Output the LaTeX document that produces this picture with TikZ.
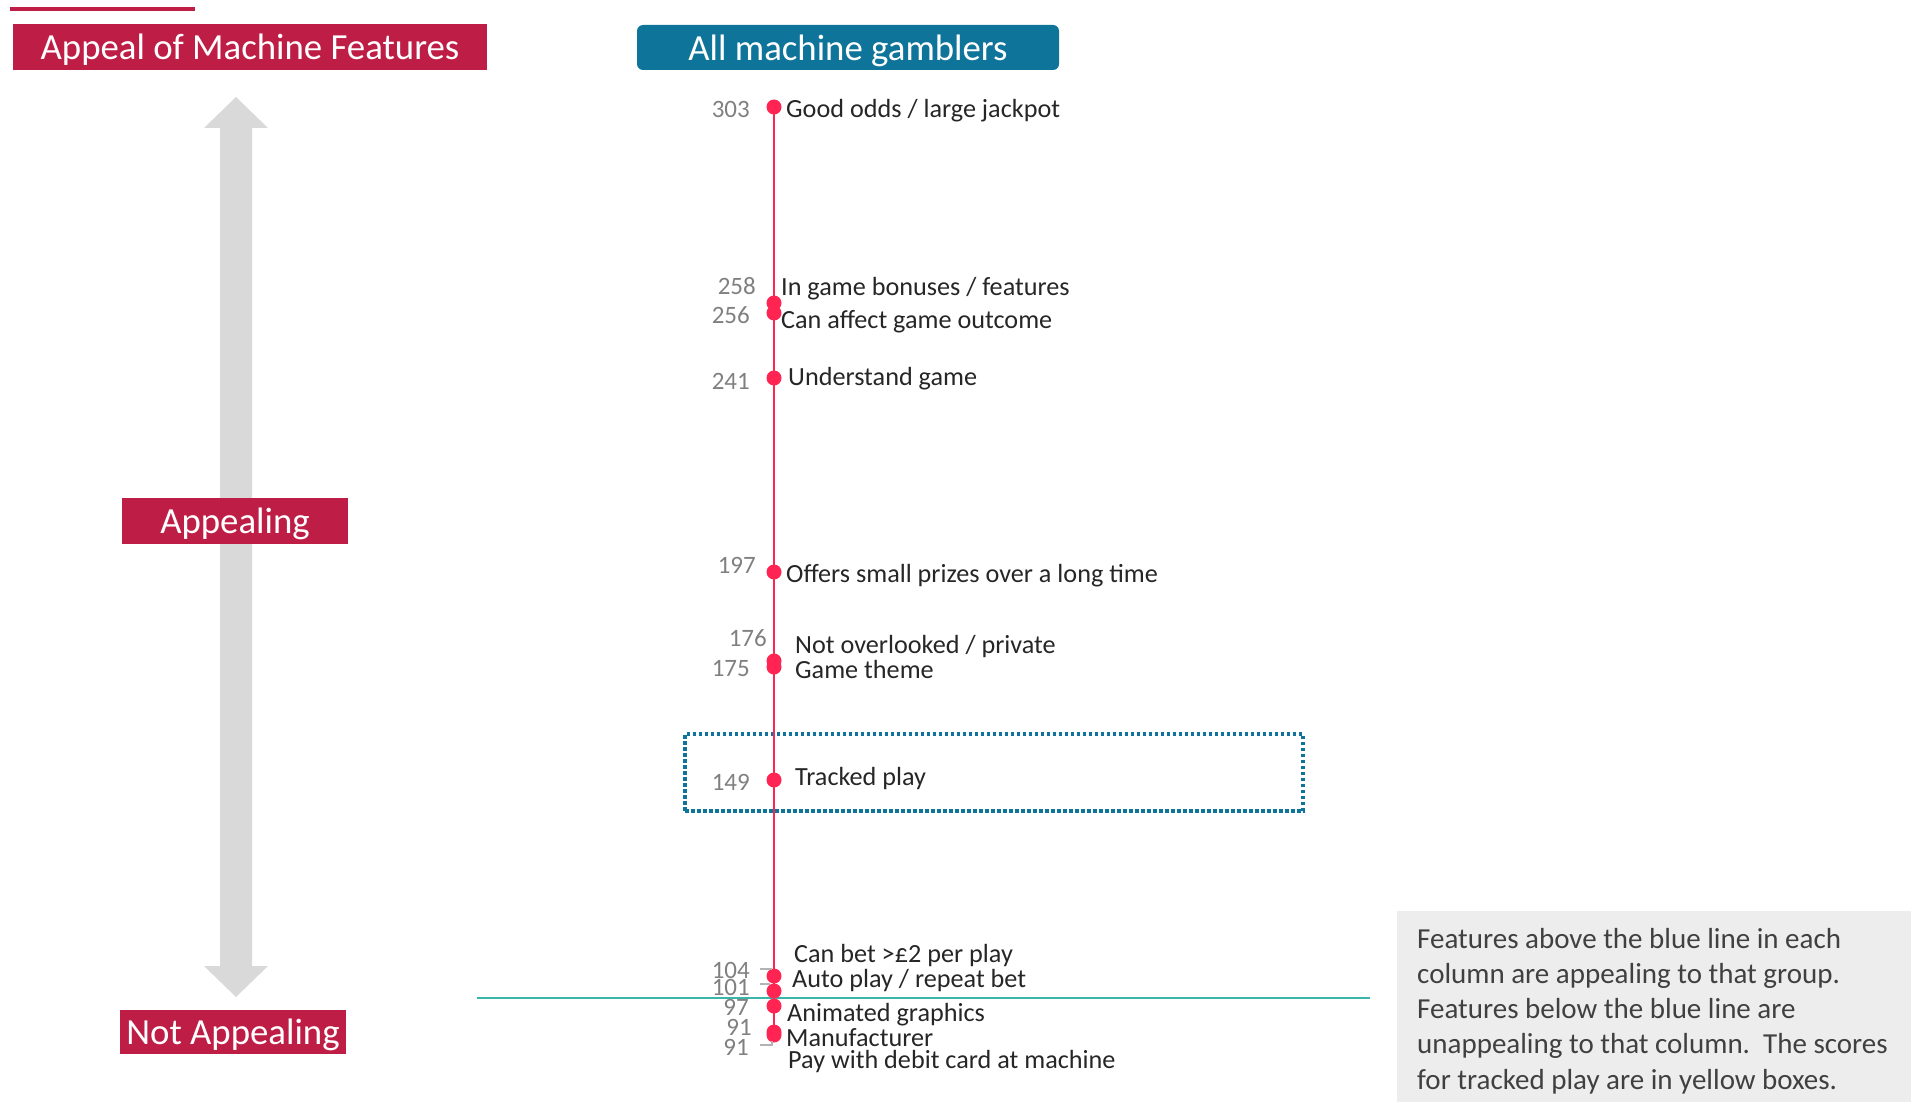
\documentclass[tikz,border=0pt]{standalone}
\usepackage{fontspec}
\setmainfont{Carlito}
\definecolor{crimson}{HTML}{BE1E46}
\definecolor{bluebox}{HTML}{0E7499}
\definecolor{redline}{HTML}{FF2452}
\definecolor{tealline}{HTML}{3AB5A9}
\definecolor{arrowgray}{HTML}{D9D9D9}
\definecolor{notegray}{HTML}{EDEDED}
\definecolor{numgray}{HTML}{808080}
\definecolor{labelgray}{HTML}{262626}
\definecolor{notetext}{HTML}{404040}
\begin{document}
\begin{tikzpicture}[x=1pt,y=-1pt,
  lbl/.style={anchor=base west, inner sep=0pt, text=labelgray, font=\fontsize{26.2}{30}\selectfont},
  num/.style={anchor=base east, inner sep=0pt, text=numgray, font=\fontsize{25}{30}\selectfont},
  dotn/.style={circle, fill=redline, inner sep=0pt, minimum size=15pt},
  hdr/.style={inner sep=0pt, text=white, text depth=0pt, font=\fontsize{36.8}{40}\selectfont},
  leader/.style={draw=numgray!60, line width=1.2pt},
  notetxt/.style={anchor=base west, inner sep=0pt, text=notetext, font=\fontsize{29}{35}\selectfont}]
\useasboundingbox (0,0) rectangle (1918,1102);

% top accent line
\coordinate (acc1) at (10,9);
\coordinate (acc2) at (195,9);
\draw[crimson, line width=4pt] (acc1) -- (acc2);

% headers
\node[hdr, fill=crimson, minimum width=474pt, minimum height=46pt] (title) at (250,47) {Appeal of Machine Features};
\node[hdr, fill=bluebox, rounded corners=6pt, minimum width=422pt, minimum height=45pt] (group) at (848,47.5) {All machine gamblers};

% grey double arrow
\fill[arrowgray] (236,97) -- (268,128) -- (252,128) -- (252,966) -- (268,966) -- (236,997)
  -- (204,966) -- (220,966) -- (220,128) -- (204,128) -- cycle;
\node[hdr, fill=crimson, minimum width=226pt, minimum height=46pt] (app) at (235,521) {Appealing};
\node[hdr, fill=crimson, minimum width=226pt, minimum height=44pt] (napp) at (233,1032) {Not Appealing};

% tracked play box
\node[draw=bluebox, line width=3.2pt, dash pattern=on 3.5pt off 2.5pt, minimum width=618pt, minimum height=77pt, inner sep=0pt] (track) at (994,772.5) {};

% threshold line
\coordinate (th1) at (477,998);
\coordinate (th2) at (1370,998);
\draw[tealline, line width=1.6pt] (th1) -- (th2);

% dots
\node[dotn] (d303) at (774,107) {};
\node[dotn] (d258) at (774,303) {};
\node[dotn] (d256) at (774,313) {};
\node[dotn] (d241) at (774,378) {};
\node[dotn] (d197) at (774,572) {};
\node[dotn] (d176) at (774,661) {};
\node[dotn] (d175) at (774,667) {};
\node[dotn] (d149) at (774,780) {};
\node[dotn] (d104) at (774,976) {};
\node[dotn] (d101) at (774,991) {};
\node[dotn] (d97) at (774,1006) {};
\node[dotn] (d91a) at (774,1032) {};
\node[dotn] (d91b) at (774,1035) {};
\draw[redline, line width=2.8pt] (d303.center) -- (d91b.center);

% labels
\node[lbl] (t303) at (786,118) {Good odds / large jackpot};
\node[lbl] (t258) at (781,295) {In game bonuses / features};
\node[lbl] (t256) at (781,328) {Can affect game outcome};
\node[lbl] (t241) at (788,385) {Understand game};
\node[lbl] (t197) at (786,582) {Offers small prizes over a long time};
\node[lbl] (t176) at (795,653) {Not overlooked / private};
\node[lbl] (t175) at (795,678) {Game theme};
\node[lbl] (t149) at (795,785) {Tracked play};
\node[lbl] (t104) at (794,962) {Can bet >£2 per play};
\node[lbl] (t101) at (792,987) {Auto play / repeat bet};
\node[lbl] (t97) at (787,1021) {Animated graphics};
\node[lbl] (t91a) at (786,1046) {Manufacturer};
\node[lbl] (t91b) at (788,1068) {Pay with debit card at machine};

% values
\node[num] (n303) at (750,118) {303};
\node[num] (n258) at (756,294) {258};
\node[num] (n256) at (750,323) {256};
\node[num] (n241) at (750,389) {241};
\node[num] (n197) at (756,573) {197};
\node[num] (n176) at (767,646) {176};
\node[num] (n175) at (750,676) {175};
\node[num] (n149) at (750,790) {149};
\node[num] (n104) at (750,978) {104};
\node[num] (n101) at (750,995) {101};
\node[num] (n97) at (749,1015) {97};
\node[num] (n91a) at (752,1035) {91};
\node[num] (n91b) at (749,1055) {91};

% leaders
\coordinate (la104) at (760,969);
\coordinate (lb104) at (772,969);
\draw[leader] (la104) -- (lb104);
\coordinate (la101) at (760,984);
\coordinate (lb101) at (770,984);
\draw[leader] (la101) -- (lb101);
\coordinate (la91) at (760,1045);
\coordinate (lb91) at (772,1045);
\coordinate (lc91) at (772,1041);
\draw[leader] (la91) -- (lb91) -- (lc91);

% note
\fill[notegray] (1397,911) rectangle (1911,1102);
\node[notetxt] (note1) at (1417,948) {Features above the blue line in each};
\node[notetxt] (note2) at (1417,983.3) {column are appealing to that group.};
\node[notetxt] (note3) at (1417,1018.6) {Features below the blue line are};
\node[notetxt] (note4) at (1417,1053.9) {unappealing to that column.\ \ The scores};
\node[notetxt] (note5) at (1417,1089.2) {for tracked play are in yellow boxes.};
\end{tikzpicture}
\end{document}
